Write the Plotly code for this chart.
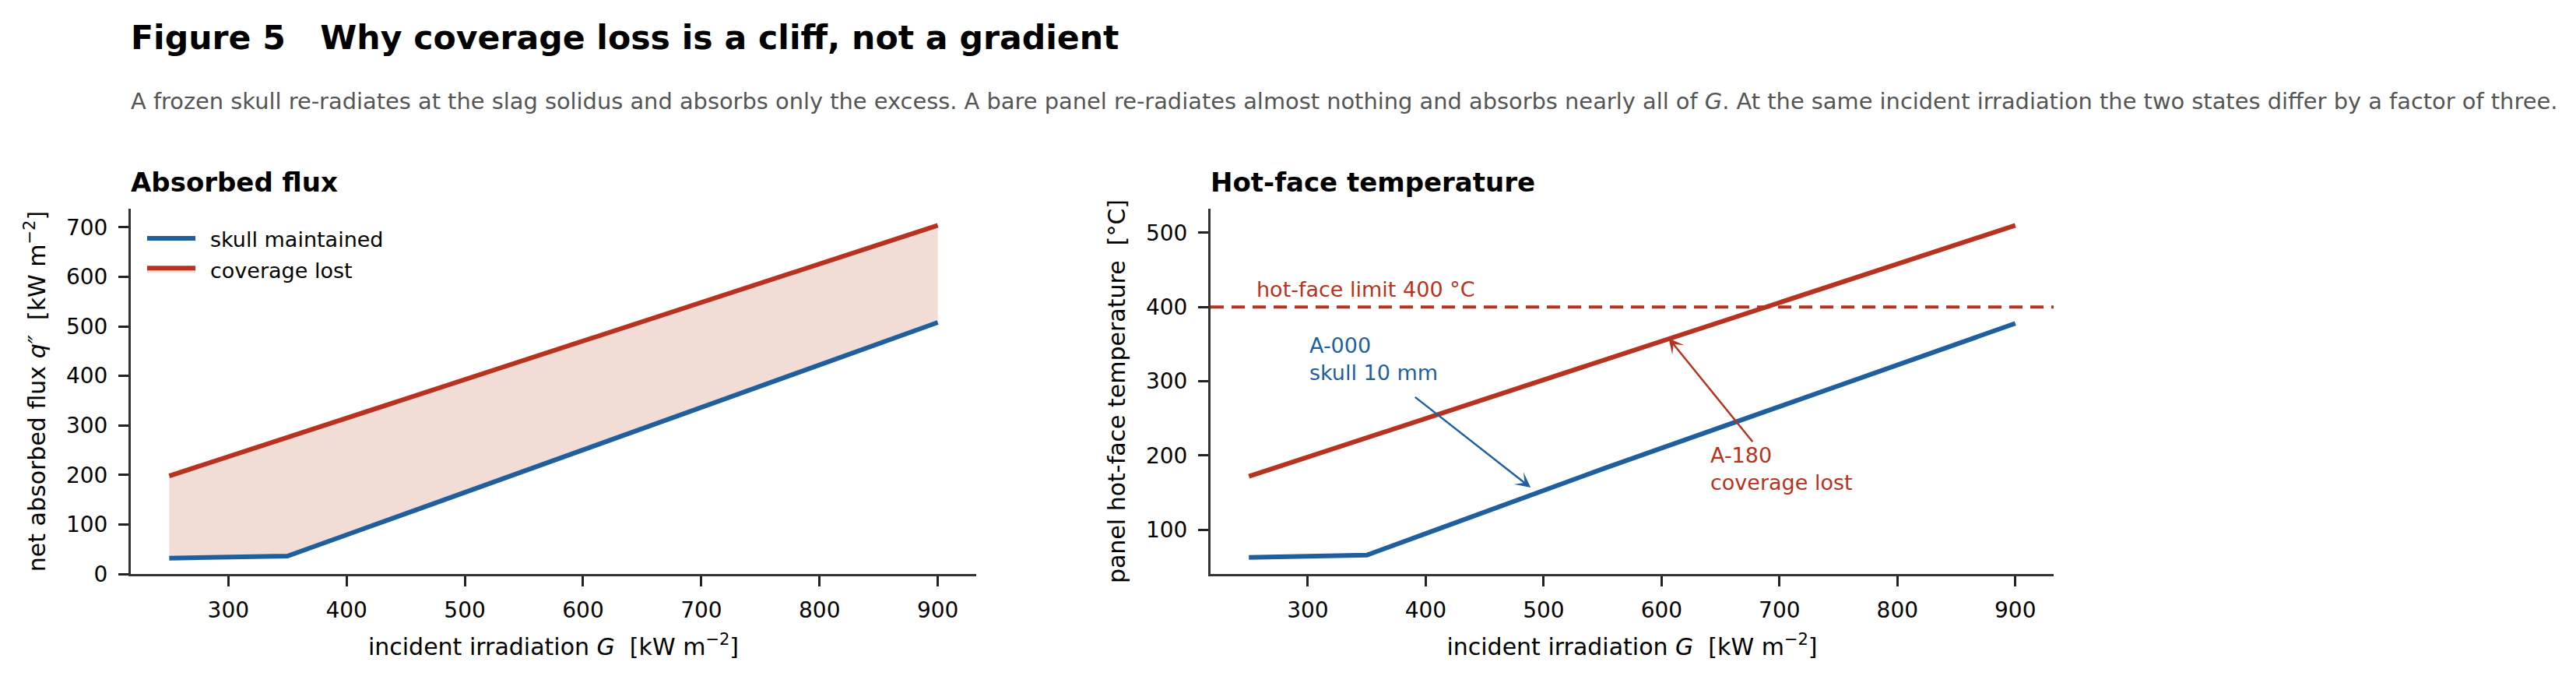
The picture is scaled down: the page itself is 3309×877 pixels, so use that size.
import plotly.graph_objects as go

# ---------------- data ----------------
G = [250, 300, 350, 400, 450, 500, 550, 600, 650, 700, 750, 800, 850, 900]
flux_skull = [32, 34, 36, 79, 122, 165, 208, 251, 294, 337, 380, 422, 465, 508]
flux_lost = [198, 237, 276, 315, 354, 393, 432, 471, 510, 549, 588, 627, 666, 704]
temp_skull = [63, 64.5, 66, 95, 124, 154, 182, 210, 238, 266, 294, 322, 350, 378]
temp_lost = [172, 198, 224, 250, 276, 302, 328, 354, 380, 406, 432, 458, 484, 510]
limit_T = 400
x_ticks = [300, 400, 500, 600, 700, 800, 900]
y1_ticks = [0, 100, 200, 300, 400, 500, 600, 700]
y2_ticks = [100, 200, 300, 400, 500]

BLUE = "#1f5f9e"
RED = "#b83220"
FILL = "rgba(242,220,214,1)"
FONT = "DejaVu Sans"
PAGE_W, PAGE_H = 3309, 877
M = 8  # default body margin of the page
W, H = PAGE_W - 2 * M, PAGE_H - 2 * M


def px(v):
    return (v - M) / W


def py(v):
    return 1 - (v - M) / H


fig = go.Figure()

# ---- left panel ----
fig.add_trace(go.Scatter(x=G, y=flux_skull, mode="lines", name="\u00a0\u2009skull maintained",
                         line=dict(color=BLUE, width=6), legendgroup="a",
                         xaxis="x", yaxis="y"))
fig.add_trace(go.Scatter(x=G, y=flux_lost, mode="lines", name="\u00a0\u2009coverage lost",
                         line=dict(color=RED, width=6), fill="tonexty", fillcolor=FILL,
                         legendgroup="b", xaxis="x", yaxis="y"))
# ---- right panel ----
fig.add_trace(go.Scatter(x=G, y=temp_skull, mode="lines", showlegend=False,
                         line=dict(color=BLUE, width=6), xaxis="x2", yaxis="y2"))
fig.add_trace(go.Scatter(x=G, y=temp_lost, mode="lines", showlegend=False,
                         line=dict(color=RED, width=6), xaxis="x2", yaxis="y2"))

fig.add_shape(type="line", xref="x2 domain", yref="y2", x0=0, x1=1, y0=limit_T, y1=limit_T,
              line=dict(color=RED, width=4, dash="17px,10px"))

axis_common = dict(showline=True, linecolor="#333333", linewidth=3, ticks="outside",
                   ticklen=13, tickwidth=3, tickcolor="#222222", showgrid=False,
                   zeroline=False, tickfont=dict(size=28, color="black", family=FONT),
                   automargin=False)

xtitle = "incident irradiation <i>G</i>\u00a0\u00a0[kW m<sup>\u22122</sup>]"
TF = dict(size=30, color="black")
dom_y = [1 - (737 - M) / H, 1 - (268 - M) / H]
fig.update_layout(
    xaxis=dict(domain=[px(168), px(1254)], range=[217.5, 932.5], tickvals=x_ticks,
               anchor="y", ticklabelstandoff=6,
               title=dict(text=xtitle, font=TF, standoff=22), **axis_common),
    yaxis=dict(domain=dom_y, range=[0, 737.6], tickvals=y1_ticks, anchor="x",
               ticklabelstandoff=8,
               title=dict(text="net absorbed flux <i>q\u2033</i>\u00a0\u00a0[kW m<sup>\u22122</sup>]",
                          font=TF, standoff=18), **axis_common),
    xaxis2=dict(domain=[px(1555), px(2638)], range=[217.5, 932.5], tickvals=x_ticks,
                anchor="y2", ticklabelstandoff=6,
                title=dict(text=xtitle, font=TF, standoff=22), **axis_common),
    yaxis2=dict(domain=dom_y, range=[40.6, 532.4], tickvals=y2_ticks, anchor="x2",
                ticklabelstandoff=8,
                title=dict(text="panel hot-face temperature\u00a0\u00a0[°C]",
                           font=TF, standoff=18), **axis_common),
)

AF = 27
annotations = [
    dict(text="<b>Figure 5\u00a0\u00a0\u00a0Why coverage loss is a cliff, not a gradient</b>",
         x=px(166), y=py(48), xref="paper", yref="paper", xanchor="left", yanchor="middle",
         showarrow=False, font=dict(size=42.6, color="black")),
    dict(text="A frozen skull re-radiates at the slag solidus and absorbs only the excess. "
              "A bare panel re-radiates almost nothing and absorbs nearly all of <i>G</i>. "
              "At the same incident irradiation the two states differ by a factor of three.",
         x=px(166), y=py(130), xref="paper", yref="paper", xanchor="left", yanchor="middle",
         showarrow=False, font=dict(size=28.86, color="#555555")),
    dict(text="<b>Absorbed flux</b>", x=px(166), y=py(234), xref="paper", yref="paper",
         xanchor="left", yanchor="middle", showarrow=False, font=dict(size=34, color="black")),
    dict(text="<b>Hot-face temperature</b>", x=px(1553), y=py(234), xref="paper", yref="paper",
         xanchor="left", yanchor="middle", showarrow=False, font=dict(size=34, color="black")),
    dict(text="hot-face limit 400 °C", x=255, y=405, xref="x2", yref="y2", xanchor="left",
         yanchor="bottom", showarrow=False, font=dict(size=AF, color=RED)),
    dict(text="A-000<br>skull 10 mm", x=300, y=293, xref="x2", yref="y2", xanchor="left",
         yanchor="bottom", align="left", showarrow=False, font=dict(size=AF, color=BLUE)),
    dict(text="A-180<br>coverage lost", x=640, y=145, xref="x2", yref="y2", xanchor="left",
         yanchor="bottom", align="left", showarrow=False, font=dict(size=AF, color=RED)),
    dict(text="", x=489, y=157, ax=390, ay=280, xref="x2", yref="y2", axref="x2", ayref="y2",
         showarrow=True, arrowhead=3, arrowsize=1.3, arrowwidth=2.5, arrowcolor=BLUE),
    dict(text="", x=606, y=358, ax=678, ay=217, xref="x2", yref="y2", axref="x2", ayref="y2",
         showarrow=True, arrowhead=3, arrowsize=1.3, arrowwidth=2.5, arrowcolor=RED),
]

fig.update_layout(
    width=W, height=H,
    margin=dict(l=0, r=0, t=0, b=0),
    paper_bgcolor="white", plot_bgcolor="white",
    font=dict(family=FONT, color="black"),
    annotations=annotations,
    showlegend=True,
    legend=dict(x=px(184), y=py(282), xanchor="left", yanchor="top",
                bgcolor="rgba(0,0,0,0)", font=dict(size=27, color="black"),
                itemwidth=62, tracegroupgap=2),
)

fig.write_html("out.html")
